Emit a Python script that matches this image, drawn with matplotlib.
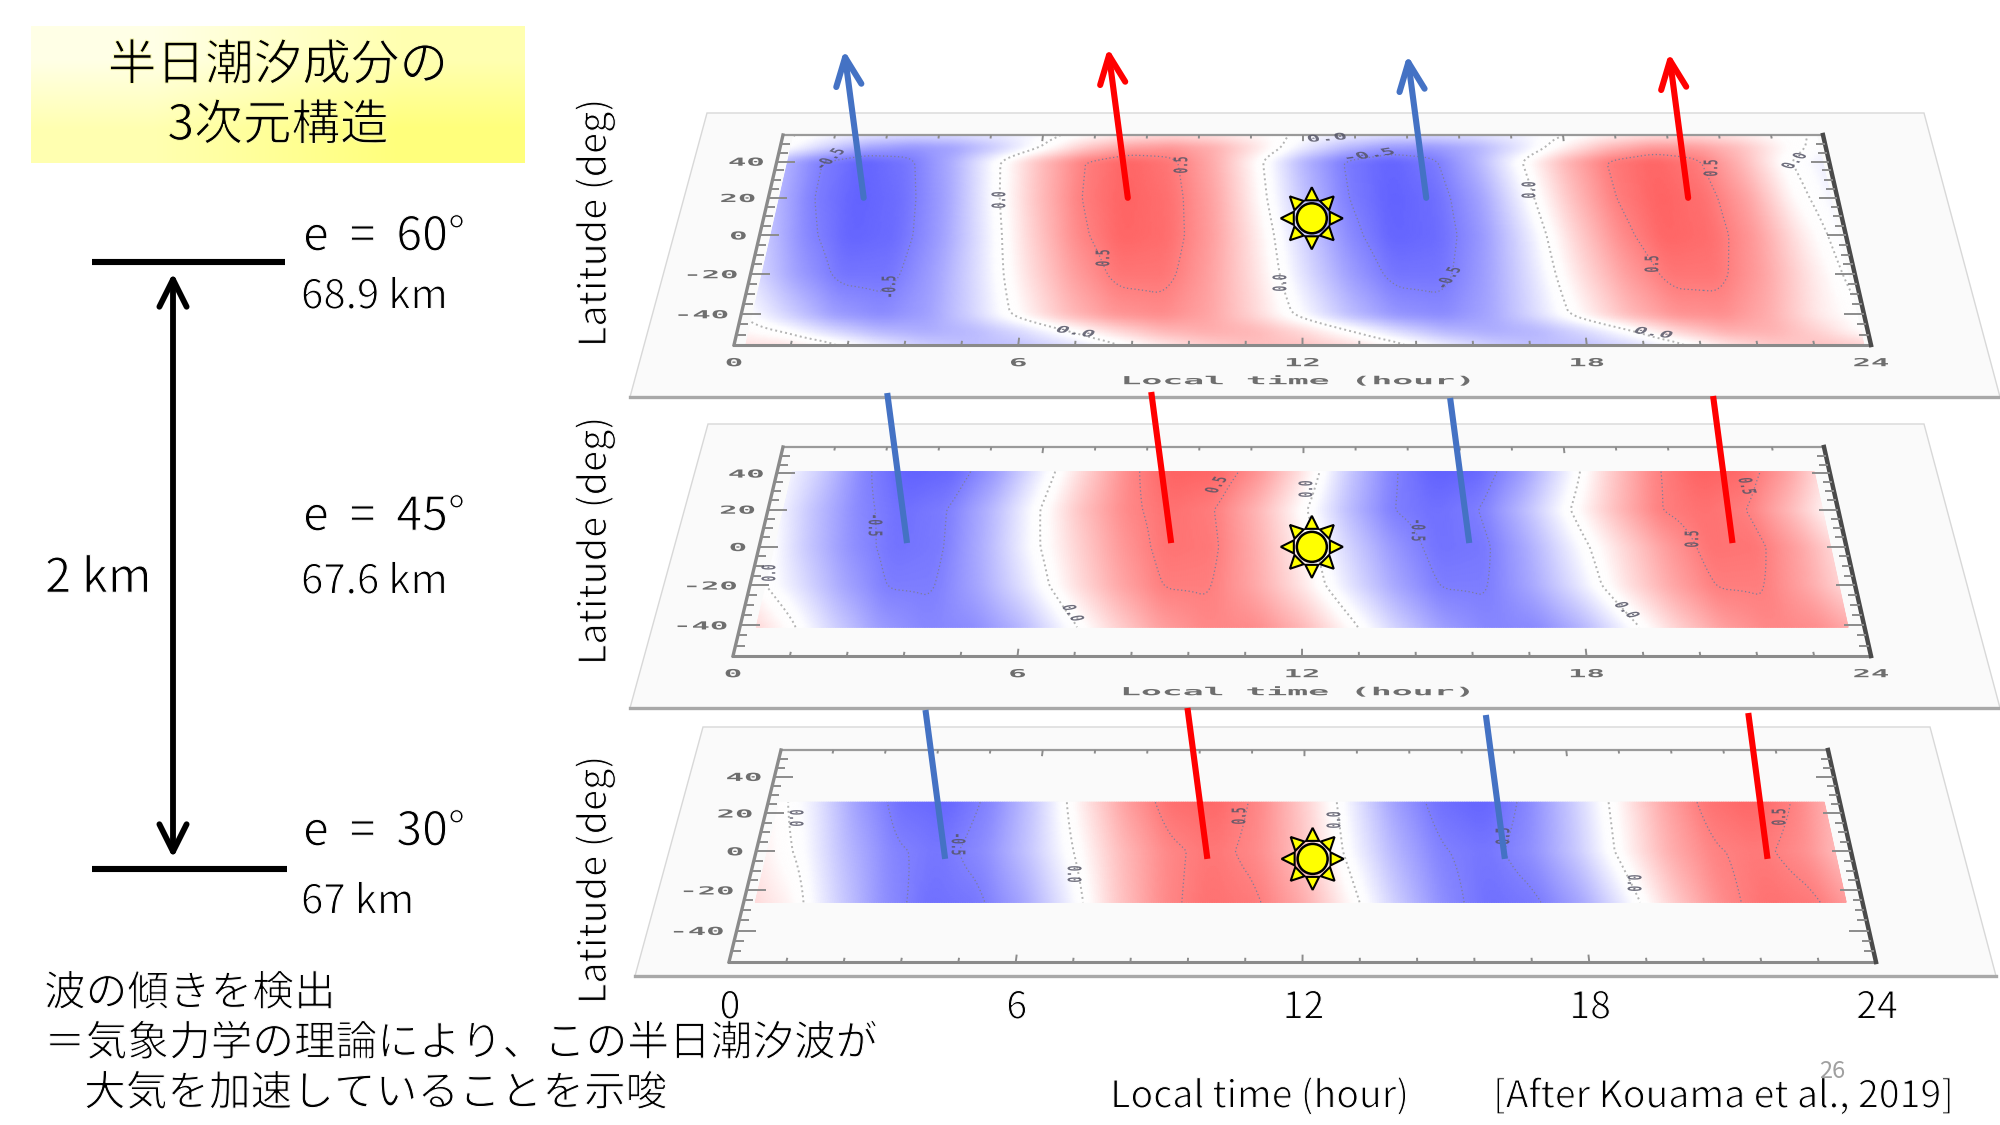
import numpy as np
import matplotlib
matplotlib.use('Agg')
import matplotlib.pyplot as plt
import matplotlib.patheffects as pe
from matplotlib.colors import LinearSegmentedColormap, Normalize
from matplotlib.collections import LineCollection
from matplotlib.patches import Polygon, Circle
from matplotlib.transforms import Affine2D

plt.rcParams['font.family'] = ['Noto Sans CJK JP', 'DejaVu Sans']

HOURS = list(range(25))
X_TICKS = [0, 6, 12, 18, 24]
LAT_TICKS = [40, 20, 0, -20, -40]

# semidiurnal temperature amplitude, rows north to south, columns local time 0-24 h
LATS_E60 = [55, 48, 40, 20, 0, -20, -40, -48, -55]
VALUES_E60 = [
    [.03, -.06, -.14, -.18, -.17, -.12, -.05, .05, .14, .18, .15, .07, -.03, -.11, -.16, -.18, -.16, -.09, -.01, .09, .16, .18, .13, .04, -.02],
    [.00, -.19, -.36, -.42, -.37, -.21, .00, .23, .38, .42, .32, .12, -.11, -.29, -.40, -.41, -.31, -.13, .09, .29, .41, .40, .27, .07, -.06],
    [-.27, -.50, -.60, -.53, -.33, -.03, .27, .50, .60, .53, .33, .03, -.30, -.52, -.60, -.52, -.30, .00, .30, .52, .60, .52, .30, .02, -.12],
    [-.25, -.50, -.61, -.56, -.37, -.06, .25, .50, .61, .56, .37, .06, -.25, -.50, -.61, -.56, -.37, -.06, .25, .50, .61, .56, .37, .06, -.10],
    [-.20, -.46, -.60, -.57, -.39, -.11, .20, .46, .60, .57, .39, .11, -.19, -.45, -.60, -.57, -.40, -.12, .19, .45, .60, .57, .40, .12, -.08],
    [-.14, -.38, -.54, -.54, -.38, -.14, .14, .38, .54, .54, .38, .14, -.14, -.38, -.54, -.54, -.38, -.14, .14, .38, .54, .54, .38, .14, -.05],
    [.00, -.20, -.39, -.46, -.38, -.18, .06, .28, .42, .46, .37, .18, -.05, -.27, -.42, -.46, -.36, -.16, .07, .29, .43, .45, .33, .12, .00],
    [.08, -.02, -.18, -.30, -.34, -.29, -.17, .00, .17, .30, .34, .30, .17, .00, -.17, -.30, -.34, -.30, -.17, .00, .20, .33, .32, .19, .02],
    [.15, .15, .04, -.10, -.22, -.28, -.26, -.17, -.03, .11, .22, .28, .26, .17, .04, -.10, -.22, -.28, -.26, -.17, -.03, .14, .24, .26, .20],
]

LATS_E45 = [41, 20, 0, -20, -41]
VALUES_E45 = [
    [-.02, -.22, -.48, -.61, -.58, -.39, -.10, .19, .46, .61, .59, .42, .13, -.22, -.48, -.61, -.58, -.39, -.10, .22, .48, .61, .58, .39, .10],
    [-.01, -.25, -.46, -.56, -.51, -.30, -.03, .25, .46, .56, .51, .30, .03, -.27, -.50, -.56, -.50, -.27, .00, .27, .50, .56, .50, .27, .00],
    [.05, -.22, -.43, -.55, -.52, -.31, -.05, .19, .41, .55, .53, .33, .08, -.19, -.41, -.55, -.53, -.33, -.08, .16, .39, .55, .54, .36, .11],
    [.07, -.13, -.35, -.51, -.51, -.35, -.13, .13, .35, .51, .51, .35, .13, -.13, -.35, -.51, -.51, -.35, -.13, .13, .35, .51, .51, .35, .13],
    [.25, .05, -.20, -.40, -.48, -.45, -.30, -.05, .19, .39, .48, .46, .30, .05, -.20, -.39, -.48, -.46, -.30, -.05, .20, .39, .48, .45, .30],
]

LATS_E30 = [26, 0, -26]
VALUES_E30 = [
    [.08, -.10, -.38, -.56, -.59, -.47, -.22, .10, .38, .56, .59, .47, .22, -.08, -.37, -.55, -.60, -.47, -.23, .05, .34, .54, .60, .49, .26],
    [.12, -.03, -.29, -.48, -.54, -.45, -.24, .01, .28, .47, .54, .46, .25, -.04, -.30, -.49, -.54, -.44, -.23, .05, .32, .49, .53, .44, .22],
    [.20, .08, -.20, -.44, -.56, -.53, -.36, -.09, .23, .46, .56, .52, .34, .06, -.22, -.45, -.56, -.52, -.35, -.07, .23, .46, .56, .52, .34],
]

# contour annotations: text, x, y, rotation
LABELS_E60 = [('-0.5', 830, 159, 60), ('0.0', 1000, 200, 90), ('0.5', 1182, 165, 90), ('0.5', 1104, 258, 90),
              ('-0.5', 890, 287, 90), ('0.0', 1281, 283, 90), ('0.0', 1075, 332, -20), ('0.0', 1327, 138, 10),
              ('-0.5', 1369, 155, 20), ('0.0', 1530, 190, 90), ('0.5', 1712, 168, 90), ('0.5', 1653, 264, 90),
              ('-0.5', 1449, 278, 70), ('0.0', 1653, 333, -20), ('0.0', 1795, 161, 60)]
LABELS_E45 = [('0.0', 770, 573, 90), ('-0.5', 874, 525, -90), ('0.0', 1072, 613, -70), ('0.5', 1217, 485, 70),
              ('0.0', 1307, 489, 90), ('-0.5', 1417, 530, -90), ('0.0', 1626, 610, -60), ('0.5', 1746, 486, -80),
              ('0.5', 1693, 539, 90)]
LABELS_E30 = [('0.0', 795, 818, -90), ('-0.5', 957, 844, -90), ('0.0', 1073, 874, -90), ('0.5', 1240, 816, 90),
              ('0.0', 1335, 820, 90), ('-0.5', 1504, 839, 90), ('0.0', 1633, 883, -90), ('0.5', 1780, 817, 90)]

# phase of the wave maxima and minima picked out by the arrows
ARROW_HOURS_E60 = [2.14, 8.07, 14.77, 20.65]
ARROW_HOURS_E45 = [3.25, 9.09, 15.68, 21.5]
ARROW_HOURS_E30 = [4.17, 9.9, 16.4, 22.14]
ARROW_COLORS = ['#4472C4', '#FF0000', '#4472C4', '#FF0000']
SUN_HOUR = 12.2


class Squash(pe.AbstractPathEffect):
    # stretches a text about its anchor, the plots were resampled onto a slanted plane
    def __init__(self, sx, sy, cx, cy):
        self.aff = Affine2D().translate(-cx, -cy).scale(sx, sy).translate(cx, cy)

    def draw_path(self, renderer, gc, tpath, affine, rgbFace=None):
        renderer.draw_path(gc, tpath, affine + self.aff, rgbFace)


def plane_map(tl, tr, br, bl):
    # homography from (hour, lat) in [0,24]x[-55,55] to figure pixels
    src = [(0, 1), (1, 1), (1, 0), (0, 0)]
    dst = [tl, tr, br, bl]
    A, b = [], []
    for (u, v), (x, y) in zip(src, dst):
        A.append([u, v, 1, 0, 0, 0, -u * x, -v * x])
        A.append([0, 0, 0, u, v, 1, -u * y, -v * y])
        b += [x, y]
    h = np.linalg.solve(np.array(A, float), np.array(b, float))

    def f(hour, lat):
        u = np.asarray(hour, float) / 24.0
        v = (np.asarray(lat, float) + 55.0) / 110.0
        w = h[6] * u + h[7] * v + 1
        return (h[0] * u + h[1] * v + h[2]) / w, (h[3] * u + h[4] * v + h[5]) / w
    return f


def soften(z, n, axis):
    k = np.ones(n) / n
    pad = [(0, 0), (0, 0)]
    pad[axis] = (n, n)
    zz = np.pad(z, pad, mode='edge')
    zz = np.apply_along_axis(lambda r: np.convolve(r, k, mode='same'), axis, zz)
    return zz[n:-n, :] if axis == 0 else zz[:, n:-n]


fig = plt.figure(figsize=(20, 11.25), dpi=100)
ax = fig.add_axes([0, 0, 1, 1])
ax.axis('off')

tide_cmap = LinearSegmentedColormap.from_list('tide', [
    (0.0, '#5f5fff'), (0.46, '#fdfdff'), (0.5, '#ffffff'), (0.54, '#fffdfd'), (1.0, '#ff6060')])
tide_norm = Normalize(-0.62, 0.62)


def sq_text(x, y, s, sx=2.2, sy=0.8, ha='center', rot=0, size=10, color='#555555'):
    t = ax.text(x, y, s, ha=ha, va='center', rotation=rot, rotation_mode='anchor', fontsize=size,
                family=['DejaVu Sans Mono'], fontweight='bold', color=color, alpha=0.85, zorder=6)
    t.set_path_effects([Squash(sx, sy, x, 1125 - y)])
    return t


def thin_text(x, y, s, size, ha='left', rot=0, back='white', erode=0.75, color='black'):
    # white outline over the fill gives the light weight the CJK family lacks
    t = ax.text(x, y, s, ha=ha, va='center', rotation=rot, fontsize=size, color=color, zorder=3)
    t.set_path_effects([pe.Stroke(linewidth=erode, foreground=back)])
    return t


def draw_panel(plate, frame, lats, values, hspan, labels, xlabels, arrow_hours, arrow_lat, arrow_top, sun_lat):
    f = plane_map(*frame)
    ax.add_patch(Polygon(plate, closed=True, fc='#fafafa', ec='#d8d8d8', lw=1, zorder=1))
    ax.plot([plate[3][0], plate[2][0]], [plate[3][1], plate[2][1]], color='#a8a8a8', lw=2.4, zorder=2)

    # colour field
    hf = np.linspace(0, 24, 481)
    lf = np.linspace(lats[-1], lats[0], 161)
    rows = np.array([np.interp(hf, HOURS, r) for r in values[::-1]])
    z = np.array([np.interp(lf, lats[::-1], rows[:, j]) for j in range(hf.size)]).T
    z = soften(soften(z, 9, 1), 7, 0)
    keep = (hf >= hspan[0]) & (hf <= hspan[1])
    hg, lg = np.meshgrid(hf[keep], lf)
    x, y = f(hg, lg)
    ax.pcolormesh(x, y, z[:, keep], shading='gouraud', cmap=tide_cmap, norm=tide_norm, zorder=3)
    ax.contour(x, y, z[:, keep], levels=[-0.5, 0.5], colors='#7c7c98', linewidths=0.9,
               linestyles=[(0, (1, 2))], zorder=4)
    ax.contour(x, y, z[:, keep], levels=[0.0], colors='#b4b4b4', linewidths=1.4,
               linestyles=[(0, (1, 1.6))], zorder=4)

    # frame and ticks
    for (h0, l0, h1, l1, c, w) in [(0, 55, 24, 55, '#9a9a9a', 1.6), (0, 55, 0, -55, '#8a8a8a', 2.4),
                                   (0, -55, 24, -55, '#8a8a8a', 2.2), (24, 55, 24, -55, '#4a4a4a', 3.2)]:
        p0, p1 = f(h0, l0), f(h1, l1)
        ax.plot([p0[0], p1[0]], [p0[1], p1[1]], color=c, lw=w, zorder=5, solid_capstyle='projecting')
    segs = []
    for lat in np.arange(-50, 51, 5):
        long_tick = lat % 20 == 0
        dh = 0.42 if long_tick else 0.2
        segs.append([f(0, lat), f(dh, lat)])
        segs.append([f(24, lat), f(24 - dh, lat)])
    for hr in np.arange(1.2, 23.9, 1.2):
        dl = 3.5 if round(hr / 1.2) % 5 == 0 else 2
        segs.append([f(hr, 55), f(hr, 55 - dl)])
        segs.append([f(hr, -55), f(hr, -55 + dl)])
    ax.add_collection(LineCollection(segs, colors='#8c8c8c', linewidths=1.4, zorder=5))

    for lat in LAT_TICKS:
        px, py = f(0, lat)
        sq_text(float(px) - 12, float(py) + 1, str(lat), ha='right')
    if xlabels:
        for hr in X_TICKS:
            px, py = f(hr, -55)
            sq_text(float(px), float(py) + 18, str(hr))
        px, py = f(12, -55)
        sq_text(float(px) - 4, float(py) + 36, 'Local time (hour)', sx=2.5)
    for s, lx, ly, r in labels:
        sq_text(lx, ly, s, sx=1.5 if abs(r) > 45 else 1.8, sy=0.75, rot=r, size=9, color='#555566')

    # phase arrows rising through the plates
    for i, hr in enumerate(arrow_hours):
        px, py = f(hr, arrow_lat)
        px, py = float(px), float(py)
        tip = (px - 0.132 * (py - arrow_top[i]), arrow_top[i])
        if arrow_top[i] < 100:
            ax.annotate('', xy=tip, xytext=(px, py), zorder=8,
                        arrowprops=dict(arrowstyle='->,head_length=1.45,head_width=0.65', mutation_scale=14,
                                        color=ARROW_COLORS[i], lw=4.4, shrinkA=0, shrinkB=0))
        else:
            ax.plot([px, tip[0]], [py, tip[1]], color=ARROW_COLORS[i], lw=4.4, zorder=8, solid_capstyle='butt')

    # sun at local noon
    cx, cy = f(SUN_HOUR, sun_lat)
    cx, cy = float(cx), float(cy)
    for a in np.radians(np.arange(0, 360, 45)):
        d = np.array([np.cos(a), np.sin(a)])
        n = np.array([-d[1], d[0]])
        tri = [np.array([cx, cy]) + 31 * d, np.array([cx, cy]) + 18 * d + 6.5 * n, np.array([cx, cy]) + 18 * d - 6.5 * n]
        ax.add_patch(Polygon(tri, closed=True, fc='#FFFF00', ec='black', lw=1.5, zorder=9))
    ax.add_patch(Circle((cx, cy), 15, fc='#FFFF00', ec='black', lw=1.8, zorder=10))


draw_panel([(707, 113), (1924, 113), (2000, 397), (630, 397)],
           [(783, 135), (1823, 135), (1871, 345), (734, 345)],
           LATS_E60, VALUES_E60, (0.25, 23.85), LABELS_E60, True, ARROW_HOURS_E60, 20, [50, 48, 55, 53], 9)
draw_panel([(708, 424), (1924, 424), (2000, 708), (630, 708)],
           [(783, 447), (1824, 447), (1871, 656), (733, 656)],
           LATS_E45, VALUES_E45, (0.35, 23.7), LABELS_E45, True, ARROW_HOURS_E45, 2, [393, 392, 398, 396], 0)
draw_panel([(703, 727), (1930, 727), (1996, 976), (635, 976)],
           [(781, 750), (1828, 750), (1876, 962), (729, 962)],
           LATS_E30, VALUES_E30, (0.22, 23.7), LABELS_E30, False, ARROW_HOURS_E30, -4, [710, 708, 715, 713], -4)

# title box with corner to corner gradient
box_cmap = LinearSegmentedColormap.from_list('box', ['#ffffe6', '#ffff7c'])
ax.imshow([[0, 0.5], [0.5, 1]], extent=[31, 525, 163, 26], aspect='auto', cmap=box_cmap,
          interpolation='bilinear', zorder=1)
thin_text(278, 66, '半日潮汐成分の', 35, ha='center', back='#ffffb8')
thin_text(278, 126, '3次元構造', 35, ha='center', back='#ffffa8')

# altitude scale
ax.plot([92, 285], [262, 262], color='black', lw=4.4, solid_capstyle='butt')
ax.plot([92, 287], [869, 869], color='black', lw=4.4, solid_capstyle='butt')
ax.annotate('', xy=(173, 273), xytext=(173, 858),
            arrowprops=dict(arrowstyle='<->,head_length=1.4,head_width=0.7', mutation_scale=14,
                            color='black', lw=4.2, shrinkA=0, shrinkB=0))
thin_text(45, 579, '2 km', 34)
for y1, s1, y2, s2 in [(237, 'e  =  60°', 297, '68.9 km'), (517, 'e  =  45°', 582, '67.6 km'), (832, 'e  =  30°', 902, '67 km')]:
    thin_text(303, y1, s1, 33.5)
    thin_text(301, y2, s2, 29)

for yc in [223, 541, 880]:
    thin_text(595, yc, 'Latitude (deg)', 27.3, ha='center', rot=90)

# big axis numbers under the lowest plate
f_low = plane_map((781, 750), (1828, 750), (1876, 962), (729, 962))
for hr in X_TICKS:
    px, _ = f_low(hr, -55)
    thin_text(float(px) + 1, 1008, str(hr), 27, ha='center')
thin_text(1260, 1097, 'Local time (hour)', 27, ha='center')
thin_text(1724, 1097, '[After Kouama et al., 2019]', 27, ha='center')
ax.text(1832, 1072, '26', ha='center', va='center', fontsize=17, color='#a0a0a0', zorder=4)

thin_text(44, 994, '波の傾きを検出', 30)
thin_text(44, 1044, '＝気象力学の理論により、この半日潮汐波が', 30)
thin_text(84, 1094, '大気を加速していることを示唆', 30)

ax.set_xlim(0, 2000)
ax.set_ylim(1125, 0)
fig.savefig('out.png', dpi=100, facecolor='white')
